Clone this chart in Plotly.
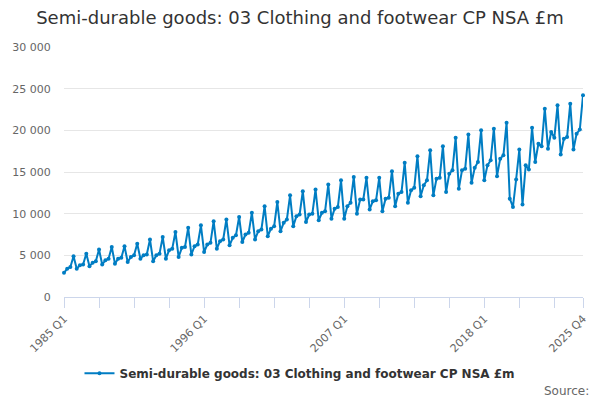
import plotly.graph_objects as go

# quarterly values, £m (Q1..Q4 per year)
years = list(range(1985, 2026))
q_values = [
    [2900, 3400, 3600, 4900],     # 1985
    [3400, 3800, 3900, 5200],
    [3700, 4100, 4300, 5700],
    [3900, 4400, 4600, 6000],
    [4000, 4600, 4700, 6100],
    [4200, 4800, 5000, 6400],     # 1990
    [4600, 5000, 5100, 6900],
    [4300, 5000, 5200, 7200],
    [4600, 5600, 5800, 7800],
    [4800, 5900, 6000, 8300],
    [5100, 6100, 6300, 8600],     # 1995
    [5400, 6300, 6500, 9100],
    [5800, 6700, 6900, 9300],
    [6200, 7100, 7400, 9600],
    [6600, 7500, 7700, 10100],
    [6900, 7900, 8100, 10900],    # 2000
    [7300, 8200, 8500, 11400],
    [7900, 8900, 9300, 12200],
    [8500, 9700, 9900, 12700],
    [9000, 9900, 10000, 12900],
    [9200, 10100, 10300, 13500],  # 2005
    [9400, 10600, 10800, 14000],
    [9400, 10900, 11300, 14400],
    [10000, 11700, 11700, 14300],
    [10500, 11500, 11600, 14300],
    [10300, 11800, 11900, 15100], # 2010
    [10900, 12400, 12600, 16100],
    [11300, 12800, 13100, 16900],
    [12100, 13400, 14000, 17600],
    [12200, 14200, 14300, 18100],
    [12600, 14800, 15200, 19100], # 2015
    [13000, 15200, 15400, 19500],
    [13700, 15500, 16200, 20000],
    [14000, 15800, 16400, 20200],
    [14500, 16600, 17000, 20900],
    [11800, 10800, 14100, 17700], # 2020
    [11100, 15800, 15300, 20300],
    [16200, 18400, 18100, 22600],
    [17800, 19800, 19100, 23000],
    [17100, 19000, 19200, 23200],
    [17700, 19600, 20100, 24200], # 2025
]

quarters = [f"{y} Q{q}" for y in years for q in range(1, 5)]
values = [v for row in q_values for v in row]

series_name = "Semi-durable goods: 03 Clothing and footwear CP NSA £m"
labelled = ["1985 Q1", "1996 Q1", "2007 Q1", "2018 Q1", "2025 Q4"]
tick_quarters = quarters[::11] + [quarters[-1]]
tick_text = [q if q in labelled else "" for q in tick_quarters]

fig = go.Figure()
fig.add_trace(go.Scatter(
    x=quarters, y=values, name=series_name,
    mode="lines+markers",
    line=dict(color="#007dc3", width=2),
    marker=dict(color="#007dc3", size=4),
    cliponaxis=False,
))

fig.update_layout(
    width=600, height=400,
    margin=dict(l=64, r=17, t=47, b=103, autoexpand=False),
    plot_bgcolor="white", paper_bgcolor="white",
    font=dict(family="DejaVu Sans", color="#666666", size=11),
    separators=". ",
    title=dict(text=series_name, x=0.5, xref="container", xanchor="center",
               y=1 - 18 / 400, yref="container", yanchor="middle",
               font=dict(size=18, color="#333333")),
    showlegend=True,
    legend=dict(orientation="h", x=0.4547, xanchor="center",
                y=-0.305, yanchor="middle",
                font=dict(size=12, color="#333333", weight="bold")),
)

fig.update_xaxes(
    type="category", range=[0, len(quarters) - 1], automargin=False,
    tickvals=tick_quarters, ticktext=tick_text, tickangle=-45,
    ticks="outside", ticklen=10, tickcolor="#ccd6eb",
    showline=True, linecolor="#ccd6eb", linewidth=1,
    showgrid=False, tickfont=dict(size=11, color="#666666"),
)
fig.update_yaxes(
    range=[0, 30000], dtick=5000, tickformat=",d", automargin=False,
    showgrid=True, gridcolor="#e6e6e6", gridwidth=1,
    zeroline=False, ticks="outside", ticklen=10, tickcolor="rgba(0,0,0,0)",
    tickfont=dict(size=11, color="#666666"),
)

fig.add_annotation(text="Source:", xref="paper", yref="paper",
                   x=1, y=-0.377, xanchor="right", yanchor="middle",
                   xshift=8, showarrow=False,
                   font=dict(size=12, color="#666666"))

# page body has a default margin; drop it so the 600x400 figure fills the window
fig.write_html("out.html", config={"displayModeBar": False},
               post_script="document.body.style.margin='0';")
